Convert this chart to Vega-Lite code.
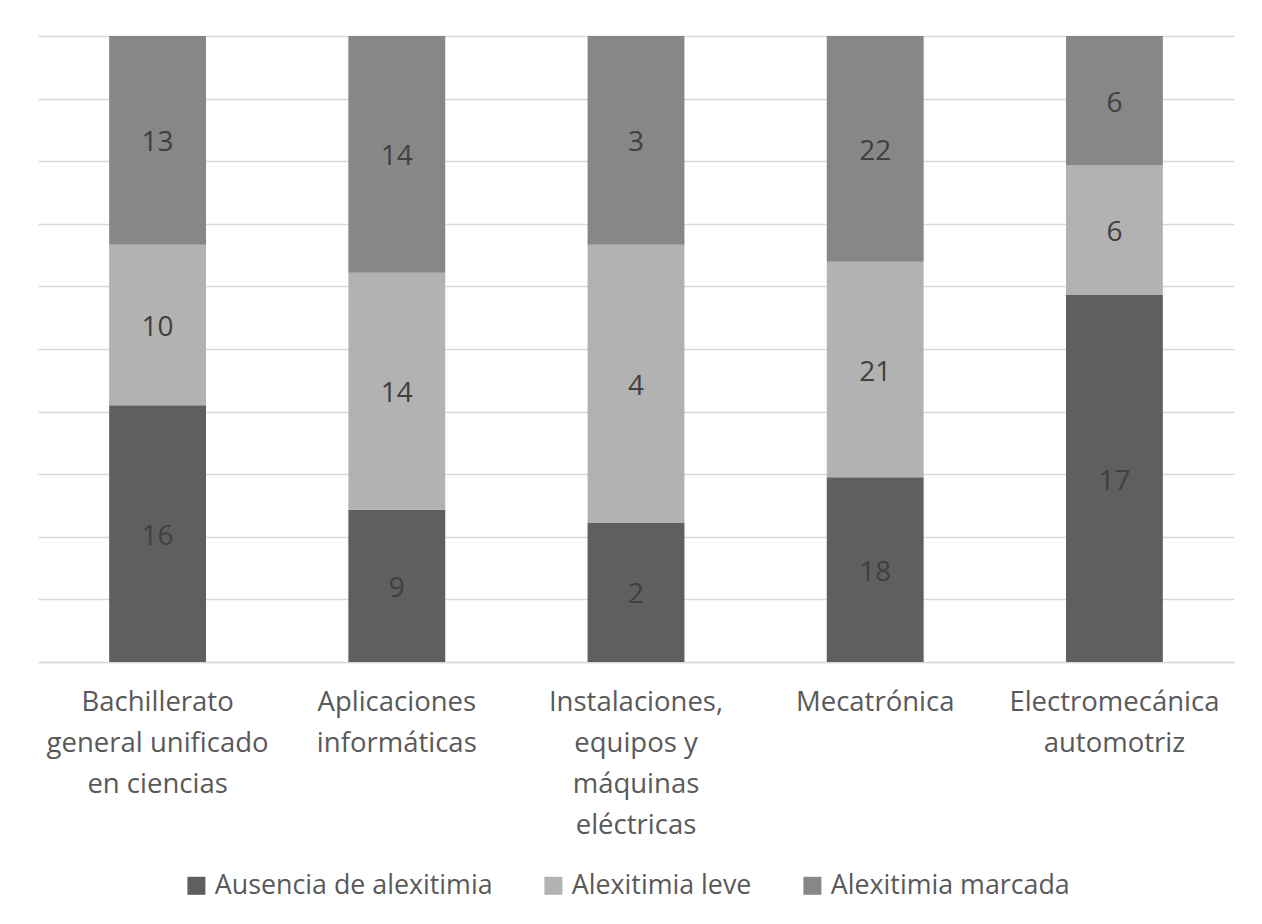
{
  "$schema": "https://vega.github.io/schema/vega-lite/v6.json",
  "width": 1196,
  "height": 626,
  "autosize": {"type": "none"},
  "padding": {"left": 38, "top": 36, "right": 28, "bottom": 262},
  "background": "white",
  "config": {
    "view": {"stroke": null},
    "font": "Open Sans"
  },
  "data": {
    "values": [
      {"programa": "Bachillerato general unificado en ciencias", "nivel": "Ausencia de alexitimia", "orden": 1, "n": 16},
      {"programa": "Bachillerato general unificado en ciencias", "nivel": "Alexitimia leve", "orden": 2, "n": 10},
      {"programa": "Bachillerato general unificado en ciencias", "nivel": "Alexitimia marcada", "orden": 3, "n": 13},
      {"programa": "Aplicaciones informáticas", "nivel": "Ausencia de alexitimia", "orden": 1, "n": 9},
      {"programa": "Aplicaciones informáticas", "nivel": "Alexitimia leve", "orden": 2, "n": 14},
      {"programa": "Aplicaciones informáticas", "nivel": "Alexitimia marcada", "orden": 3, "n": 14},
      {"programa": "Instalaciones, equipos y máquinas eléctricas", "nivel": "Ausencia de alexitimia", "orden": 1, "n": 2},
      {"programa": "Instalaciones, equipos y máquinas eléctricas", "nivel": "Alexitimia leve", "orden": 2, "n": 4},
      {"programa": "Instalaciones, equipos y máquinas eléctricas", "nivel": "Alexitimia marcada", "orden": 3, "n": 3},
      {"programa": "Mecatrónica", "nivel": "Ausencia de alexitimia", "orden": 1, "n": 18},
      {"programa": "Mecatrónica", "nivel": "Alexitimia leve", "orden": 2, "n": 21},
      {"programa": "Mecatrónica", "nivel": "Alexitimia marcada", "orden": 3, "n": 22},
      {"programa": "Electromecánica automotriz", "nivel": "Ausencia de alexitimia", "orden": 1, "n": 17},
      {"programa": "Electromecánica automotriz", "nivel": "Alexitimia leve", "orden": 2, "n": 6},
      {"programa": "Electromecánica automotriz", "nivel": "Alexitimia marcada", "orden": 3, "n": 6}
    ]
  },
  "encoding": {
    "x": {
      "field": "programa",
      "type": "nominal",
      "sort": null,
      "scale": {"paddingInner": 0.595, "paddingOuter": 0.2975},
      "axis": {
        "title": null,
        "labelAngle": 0,
        "labelFont": "Open Sans",
        "labelFontSize": 27.5,
        "labelColor": "#595959",
        "labelLineHeight": 41,
        "labelPadding": 26,
        "labelLimit": 0,
        "ticks": false,
        "domainColor": "#d9d9d9",
        "domainWidth": 1.5,
        "labelExpr": "datum.value == 'Bachillerato general unificado en ciencias' ? ['Bachillerato', 'general unificado', 'en ciencias'] : datum.value == 'Aplicaciones informáticas' ? ['Aplicaciones', 'informáticas'] : datum.value == 'Instalaciones, equipos y máquinas eléctricas' ? ['Instalaciones,', 'equipos y', 'máquinas', 'eléctricas'] : datum.value == 'Electromecánica automotriz' ? ['Electromecánica', 'automotriz'] : datum.value"
      }
    },
    "y": {
      "field": "n",
      "type": "quantitative",
      "stack": "normalize",
      "scale": {"domain": [0, 1]},
      "axis": {
        "title": null,
        "labels": false,
        "ticks": false,
        "domain": false,
        "values": [0, 0.1, 0.2, 0.3, 0.4, 0.5, 0.6, 0.7, 0.8, 0.9, 1],
        "gridColor": "#d9d9d9",
        "gridWidth": 1.5
      }
    },
    "order": {"field": "orden", "type": "quantitative"}
  },
  "layer": [
    {
      "mark": {"type": "bar"},
      "encoding": {
        "color": {
          "field": "nivel",
          "type": "nominal",
          "sort": ["Ausencia de alexitimia", "Alexitimia leve", "Alexitimia marcada"],
          "scale": {
            "domain": ["Ausencia de alexitimia", "Alexitimia leve", "Alexitimia marcada"],
            "range": ["#5f5f5f", "#b2b2b2", "#878787"]
          },
          "legend": {
            "title": null,
            "orient": "none",
            "direction": "horizontal",
            "legendX": 145,
            "legendY": 836,
            "symbolType": "square",
            "symbolSize": 324,
            "symbolStrokeWidth": 0,
            "symbolOpacity": 1,
            "labelFont": "Open Sans",
            "labelFontSize": 26.8,
            "labelColor": "#595959",
            "labelOffset": 5,
            "columnPadding": 47,
            "labelLimit": 0
          }
        }
      }
    },
    {
      "mark": {"type": "text", "font": "Open Sans", "fontSize": 28, "color": "#404040", "baseline": "middle", "dy": 3},
      "encoding": {
        "y": {
          "field": "n",
          "type": "quantitative",
          "stack": "normalize",
          "bandPosition": 0.5
        },
        "text": {"field": "n", "type": "quantitative"}
      }
    }
  ]
}
